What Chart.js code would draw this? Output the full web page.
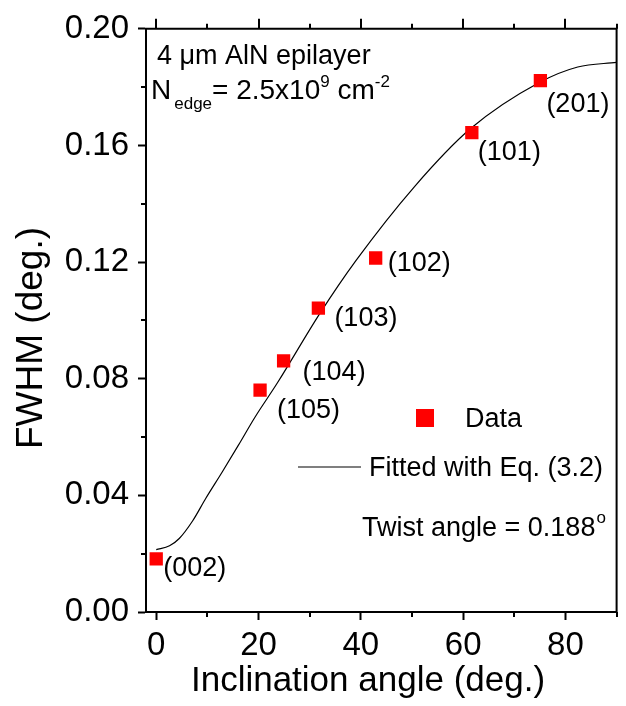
<!DOCTYPE html>
<html>
<head>
<meta charset="utf-8">
<script src="https://cdn.jsdelivr.net/npm/chart.js@4"></script>
<style>
  html, body { margin: 0; padding: 0; background: #fff; }
  #graf { display: block; }
</style>
</head>
<body>
<canvas id="graf" width="626" height="706"></canvas>
<script>
// Reflexoes medidas (angulo de inclinacao x FWHM)
const reflexoes = ['(002)', '(105)', '(104)', '(103)', '(102)', '(101)', '(201)'];
const anguloDados = [0, 20.3, 24.9, 31.7, 42.9, 61.7, 75.1];
const fwhmDados = [0.0182, 0.0761, 0.0861, 0.1042, 0.1214, 0.1644, 0.1822];

// Curva ajustada
const anguloAjuste = [0, 2.6, 4.5, 7.1, 9.7, 12.9, 16.1, 19.3, 23.7, 32.0, 39.0, 50.5, 61.4, 74.8, 82.4, 90];
const fwhmAjuste = [0.0214, 0.0227, 0.0252, 0.0312, 0.039, 0.048, 0.0573, 0.0668, 0.0786, 0.1024, 0.1204, 0.1459, 0.1657, 0.1815, 0.1869, 0.1885];

// Marcas e titulos dos eixos
const xTicks = [0, 10, 20, 30, 40, 50, 60, 70, 80, 90];
const yTicks = [0, 0.02, 0.04, 0.06, 0.08, 0.10, 0.12, 0.14, 0.16, 0.18, 0.20];
const tituloX = 'Inclination angle (deg.)';
const tituloY = 'FWHM (deg.)';

const fonte = "'Liberation Sans', Arial, sans-serif";

function xMaior(v) { return Math.round(v) % 20 === 0; }
function yMaior(v) { return Math.round(v * 100) % 4 === 0; }

// Escreve texto com partes sub/sobrescritas
function textoRico(ctx, x, y, partes) {
    partes.forEach(p => {
        ctx.font = p.size + 'px ' + fonte;
        x += p.gap || 0;
        ctx.fillText(p.t, x, y + (p.dy || 0));
        x += ctx.measureText(p.t).width;
    });
}

const moldura = {
    id: 'moldura',
    afterDraw(chart) {
        const ctx = chart.ctx;
        const a = chart.chartArea;
        const sx = chart.scales.x;
        const sy = chart.scales.y;
        ctx.save();

        // borda de cima e da direita
        ctx.strokeStyle = '#000';
        ctx.lineWidth = 2;
        ctx.beginPath();
        ctx.moveTo(a.left - 1, a.top);
        ctx.lineTo(a.right, a.top);
        ctx.lineTo(a.right, a.bottom);
        ctx.stroke();

        // marcas menores e marcas de cima
        ctx.beginPath();
        xTicks.forEach(v => {
            const px = Math.round(sx.getPixelForValue(v));
            if (xMaior(v)) {
                ctx.moveTo(px, a.top);
                ctx.lineTo(px, a.top - 10);
            } else {
                ctx.moveTo(px, a.bottom);
                ctx.lineTo(px, a.bottom + 5);
                ctx.moveTo(px, a.top);
                ctx.lineTo(px, a.top - 5);
            }
        });
        yTicks.forEach(v => {
            if (yMaior(v)) return;
            const py = Math.round(sy.getPixelForValue(v));
            ctx.moveTo(a.left, py);
            ctx.lineTo(a.left - 5, py);
        });
        ctx.stroke();

        // titulos dos eixos
        ctx.fillStyle = '#000';
        ctx.textAlign = 'center';
        ctx.textBaseline = 'alphabetic';
        ctx.font = '35px ' + fonte;
        ctx.fillText(tituloX, 368, 691);
        ctx.save();
        ctx.translate(42, 338);
        ctx.rotate(-Math.PI / 2);
        ctx.font = '37px ' + fonte;
        ctx.fillText(tituloY, 0, 0);
        ctx.restore();

        // nomes das reflexoes
        const desloc = [[7, 10], [17, 20], [19, 12], [16, 10], [12, 6], [6, 20], [6, 24]];
        ctx.font = '27px ' + fonte;
        ctx.textBaseline = 'middle';
        ctx.textAlign = 'left';
        reflexoes.forEach((r, i) => {
            const px = sx.getPixelForValue(anguloDados[i]);
            const py = sy.getPixelForValue(fwhmDados[i]);
            ctx.fillText(r, px + desloc[i][0], py + desloc[i][1]);
        });

        // legenda
        const ds = chart.data.datasets;
        ctx.textBaseline = 'alphabetic';
        ctx.fillStyle = ds[0].backgroundColor;
        ctx.fillRect(416, 409, 18, 18);
        ctx.fillStyle = '#000';
        ctx.font = '27px ' + fonte;
        ctx.fillText(ds[0].label, 465, 427);
        ctx.strokeStyle = ds[1].borderColor;
        ctx.lineWidth = 1.2;
        ctx.beginPath();
        ctx.moveTo(298, 467);
        ctx.lineTo(361, 467);
        ctx.stroke();
        ctx.fillText(ds[1].label, 369, 476);

        // anotacoes
        textoRico(ctx, 157, 64, [{t: '4 \u03bcm AlN epilayer', size: 27}]);
        textoRico(ctx, 151, 99, [
            {t: 'N', size: 28},
            {t: 'edge', size: 17, dy: 10, gap: 3},
            {t: '= 2.5x10', size: 28},
            {t: '9', size: 17, dy: -12},
            {t: ' cm', size: 28},
            {t: '-2', size: 17, dy: -12}
        ]);
        textoRico(ctx, 362, 536, [
            {t: 'Twist angle = 0.188', size: 27},
            {t: 'o', size: 17, dy: -13, gap: 1}
        ]);
        ctx.restore();
    }
};

new Chart(document.getElementById('graf'), {
    type: 'scatter',
    data: {
        datasets: [{
            label: 'Data',
            data: anguloDados.map((x, i) => ({x: x, y: fwhmDados[i]})),
            pointStyle: 'rect',
            pointRadius: 9.4,
            backgroundColor: '#ff0000',
            borderColor: '#ff0000',
            borderWidth: 0,
            order: 0
        }, {
            label: 'Fitted with Eq. (3.2)',
            type: 'line',
            data: anguloAjuste.map((x, i) => ({x: x, y: fwhmAjuste[i]})),
            borderColor: '#000000',
            borderWidth: 1.2,
            pointRadius: 0,
            fill: false,
            cubicInterpolationMode: 'monotone',
            order: 1
        }]
    },
    options: {
        responsive: false,
        animation: false,
        layout: { padding: { top: 22, right: 1, left: 0, bottom: 0 } },
        plugins: { legend: { display: false }, tooltip: { enabled: false } },
        scales: {
            x: {
                type: 'linear',
                min: -2,
                max: 90,
                afterBuildTicks: s => { s.ticks = xTicks.map(v => ({value: v})); },
                afterFit: s => { s.height = 94; },
                grid: {
                    drawOnChartArea: false,
                    tickLength: 8,
                    tickWidth: 2,
                    tickColor: c => (c.tick && xMaior(c.tick.value)) ? '#000' : 'rgba(0,0,0,0)'
                },
                border: { color: '#000', width: 2 },
                ticks: {
                    color: '#000',
                    font: { family: fonte, size: 33 },
                    padding: 6,
                    maxRotation: 0,
                    autoSkip: false,
                    callback: v => xMaior(v) ? String(v) : ''
                }
            },
            y: {
                type: 'linear',
                min: 0,
                max: 0.20,
                afterBuildTicks: s => { s.ticks = yTicks.map(v => ({value: v})); },
                afterFit: s => { s.width = 146; },
                grid: {
                    drawOnChartArea: false,
                    tickLength: 8,
                    tickWidth: 2,
                    tickColor: c => (c.tick && yMaior(c.tick.value)) ? '#000' : 'rgba(0,0,0,0)'
                },
                border: { color: '#000', width: 2 },
                ticks: {
                    color: '#000',
                    font: { family: fonte, size: 33 },
                    padding: 9,
                    autoSkip: false,
                    callback: v => yMaior(v) ? v.toFixed(2) : ''
                }
            }
        }
    },
    plugins: [moldura]
});
</script>
</body>
</html>
